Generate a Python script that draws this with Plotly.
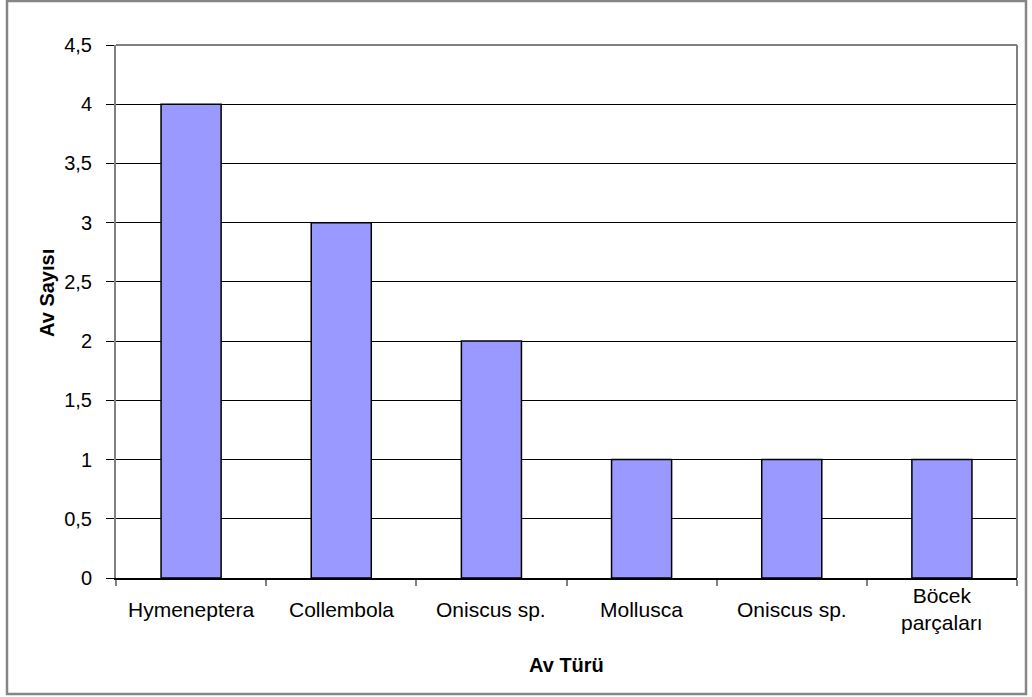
import plotly.graph_objects as go

# Prey types and counts
categories = ["Hymeneptera", "Collembola", "Oniscus sp.", "Mollusca", "Oniscus sp.", "Böcek<br>parçaları"]
counts = [4, 3, 2, 1, 1, 1]
y_ticks = [0, 0.5, 1, 1.5, 2, 2.5, 3, 3.5, 4, 4.5]
x_title = "Av Türü"
y_title = "Av Sayısı"

W, H = 1032, 697
ML, MR, MT, MB = 116, 15, 45, 119
pw, ph = W - ML - MR, H - MT - MB

positions = list(range(len(categories)))

fig = go.Figure(go.Bar(
    x=positions, y=counts,
    marker=dict(color="#9999FF", line=dict(color="#000000", width=1.5)),
    width=0.4,
))

family = "Liberation Sans, Arial, sans-serif"
xfont = dict(family=family, size=21, color="#000000")
yfont = dict(family=family, size=20, color="#000000")
tfont = dict(family=family, size=20, color="#000000")

def px_x(px):
    return (px - ML) / pw

def px_y(py):
    return 1 - (py - MT) / ph

# category labels, vertically centred below the axis
label_notes = [
    dict(text=name, xref="x", yref="paper", x=pos, y=px_y(609),
         xanchor="center", yanchor="middle", showarrow=False,
         font=xfont, align="center")
    for pos, name in zip(positions, categories)
]

fig.update_layout(
    width=W, height=H,
    margin=dict(l=ML, r=MR, t=MT, b=MB),
    paper_bgcolor="white", plot_bgcolor="white",
    separators=",.",
    showlegend=False,
    xaxis=dict(
        range=[-0.5, len(categories) - 0.5],
        tickvals=positions, showticklabels=False,
        ticks="", showgrid=False, zeroline=False,
        showline=True, linecolor="#000000", linewidth=1.5,
        minor=dict(tick0=-0.5, dtick=1, ticks="outside", ticklen=6,
                   tickcolor="#808080", tickwidth=2, showgrid=False),
    ),
    yaxis=dict(
        range=[0, 4.5],
        tickvals=y_ticks,
        ticks="outside", ticklen=8, tickcolor="#000000", tickwidth=1,
        showgrid=True, gridcolor="#000000", gridwidth=1,
        zeroline=False,
        showline=True, linecolor="#808080", linewidth=2,
        ticklabelstandoff=10,
        tickfont=yfont,
    ),
    annotations=label_notes + [
        dict(text="<b>%s</b>" % x_title, xref="paper", yref="paper",
             x=0.5, y=px_y(665), xanchor="center", yanchor="middle",
             showarrow=False, font=tfont),
        dict(text="<b>%s</b>" % y_title, xref="paper", yref="paper",
             x=px_x(47), y=px_y(293), xanchor="center", yanchor="middle",
             textangle=-90, showarrow=False, font=tfont),
    ],
    shapes=[
        # plot area frame (top and right edges)
        dict(type="line", xref="paper", yref="paper", x0=0, x1=1, y0=1, y1=1,
             line=dict(color="#808080", width=2)),
        dict(type="line", xref="paper", yref="paper", x0=1, x1=1, y0=0, y1=1,
             line=dict(color="#808080", width=2)),
        # chart border
        dict(type="rect", xref="paper", yref="paper",
             x0=px_x(7), x1=px_x(1026), y0=px_y(694), y1=px_y(1),
             line=dict(color="#868686", width=2.5), layer="below"),
    ],
)

fig.write_html("out.html")
